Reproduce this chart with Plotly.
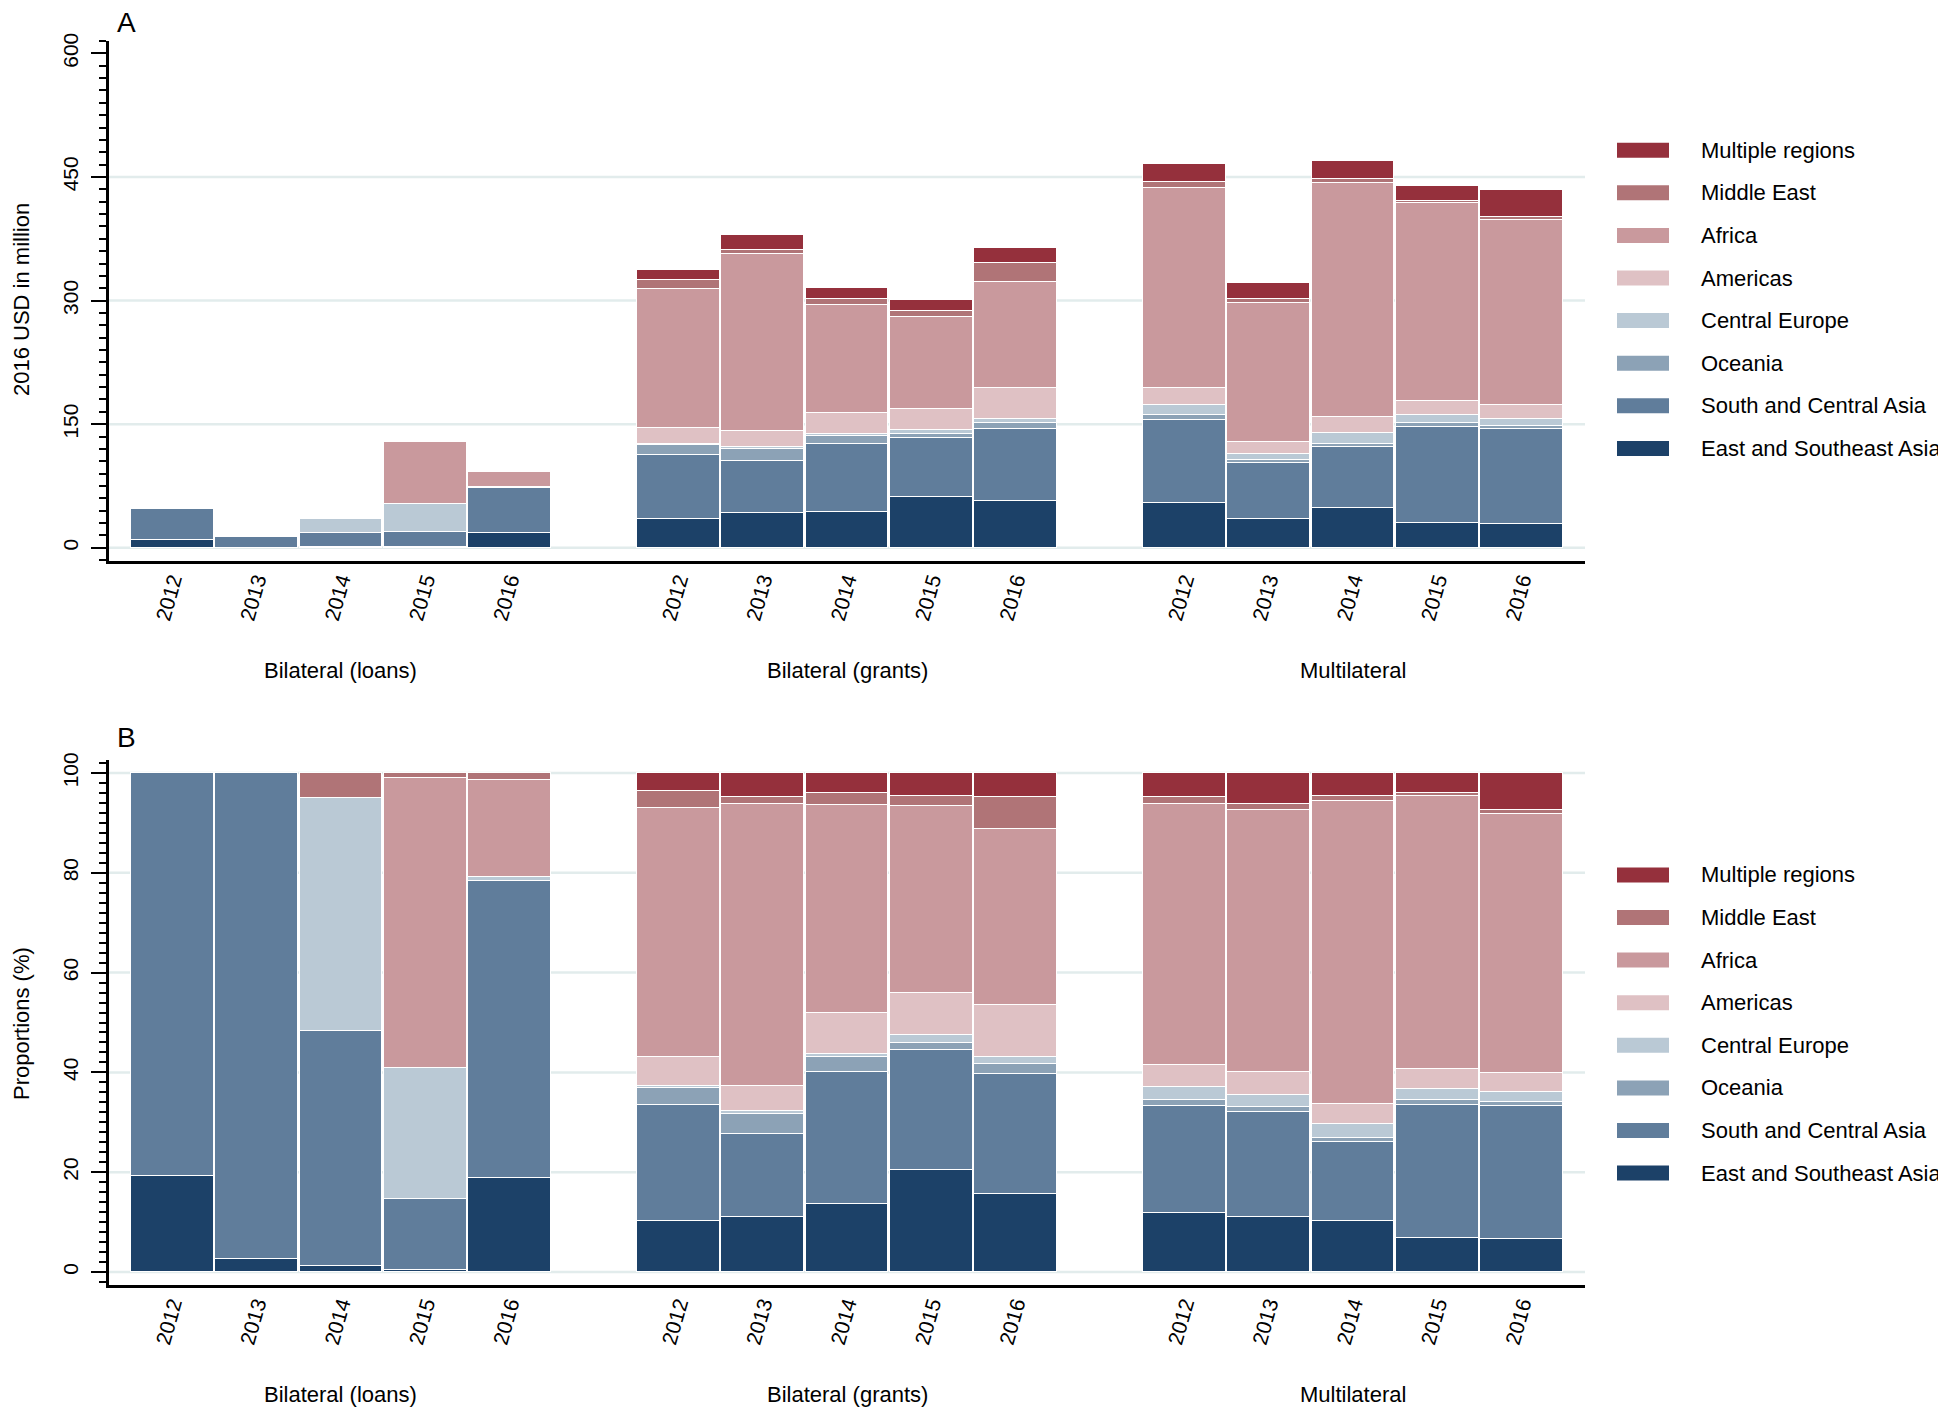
import pandas as pd
import plotly.graph_objects as go

regions = ["East and Southeast Asia", "South and Central Asia", "Oceania", "Central Europe",
           "Americas", "Africa", "Middle East", "Multiple regions"]
colors = ["#1c4168", "#607d9b", "#8ca2b6", "#bac9d5", "#dfc1c4", "#c9999d", "#b07477", "#95303c"]
groups = ["Bilateral (loans)", "Bilateral (grants)", "Multilateral"]
years = ["2012", "2013", "2014", "2015", "2016"]

# bar totals, 2016 USD million (panel A); loans, grants, multilateral x 2012..2016
totals = [46.6, 12.9, 36.5, 129.5, 93.0,
          337.6, 380.0, 315.2, 300.8, 363.6,
          466.0, 321.6, 469.6, 438.8, 434.0]

# regional shares in % (panel B), same bar order
share_esa = [19.3, 2.7, 1.3, 0.4, 18.9, 10.3, 11.0, 13.6, 20.5, 15.6, 11.8, 11.0, 10.3, 6.8, 6.6]
share_sca = [80.7, 97.3, 47.0, 14.3, 59.5, 23.2, 16.7, 26.4, 23.9, 24.0, 21.5, 21.1, 15.7, 26.7, 26.6]
share_oce = [0, 0, 0, 0, 0, 3.3, 3.9, 3.0, 1.4, 2.0, 1.2, 0.9, 0.9, 1.0, 0.8]
share_ceu = [0, 0, 46.6, 26.2, 0.8, 0.4, 0.7, 0.7, 1.7, 1.5, 2.6, 2.4, 2.7, 2.1, 2.1]
share_ame = [0, 0, 0, 0, 0, 5.8, 5.0, 8.2, 8.4, 10.4, 4.4, 4.6, 4.1, 4.1, 3.7]
share_afr = [0, 0, 0, 58.1, 19.4, 50.0, 56.5, 41.6, 37.4, 35.2, 52.3, 52.5, 60.6, 54.7, 51.9]
share_mea = [0, 0, 5.1, 1.0, 1.4, 3.4, 1.3, 2.4, 2.1, 6.5, 1.4, 1.2, 1.1, 0.6, 0.9]
share_mul = [0, 0, 0, 0, 0, 3.6, 4.9, 4.1, 4.6, 4.8, 4.8, 6.3, 4.6, 4.0, 7.4]

shares = pd.DataFrame([share_esa, share_sca, share_oce, share_ceu,
                       share_ame, share_afr, share_mea, share_mul], index=regions).T
amounts = shares.mul(totals, axis=0) / 100

# slot positions: one empty slot between groups
xpos = [g * 6 + i for g in range(len(groups)) for i in range(len(years))]

# page body adds an 8px margin, so the figure is laid out 8px smaller
OFF = 8
W, H = 1946 - OFF, 1407 - OFF
L, T = 109 - OFF, 41 - OFF
R = W - (1585 - OFF)
B = H - (1285 - OFF)
PW, PH = W - L - R, H - T - B

def px(p):
    return (p - OFF - L) / PW

def py(p):
    return (H - B - (p - OFF)) / PH

FONT = "Liberation Sans, Arial, Helvetica, sans-serif"
GRID = "#e2ecec"

fig = go.Figure()
for reg, col in zip(regions, colors):
    fig.add_trace(go.Bar(x=xpos, y=amounts[reg], name=reg, marker_color=col,
                         marker_line=dict(color="white", width=1.5), width=0.98,
                         showlegend=False, xaxis="x", yaxis="y"))
    fig.add_trace(go.Bar(x=xpos, y=shares[reg], name=reg, marker_color=col,
                         marker_line=dict(color="white", width=1.5), width=0.98,
                         showlegend=False, xaxis="x2", yaxis="y2"))

xcommon = dict(range=[-0.75, 16.75], tickvals=xpos, ticktext=years * 3, tickangle=-74,
               ticks="", showgrid=False, zeroline=False, showline=True,
               linecolor="black", linewidth=2.5, tickfont=dict(size=21, color="black"),
               ticklabelstandoff=-4)
ycommon = dict(tickangle=-90, ticks="outside", ticklen=15, tickwidth=2, tickcolor="black",
               showgrid=False, zeroline=False,
               showline=True, linecolor="black", linewidth=2.5,
               tickfont=dict(size=21, color="black"), ticklabelstandoff=5)

fig.update_layout(
    width=W, height=H, barmode="stack", bargap=0,
    plot_bgcolor="white", paper_bgcolor="white",
    margin=dict(l=L, r=R, t=T, b=B, autoexpand=False),
    font=dict(family=FONT, size=22, color="black"),
    xaxis=dict(domain=[0, 1], anchor="y", **xcommon),
    yaxis=dict(domain=[py(561), 1], anchor="x", range=[-16, 615],
               tickvals=[0, 150, 300, 450, 600],
               minor=dict(dtick=15, tick0=0, ticks="outside", ticklen=7, tickwidth=2,
                          tickcolor="black", showgrid=False),
               **ycommon),
    xaxis2=dict(domain=[0, 1], anchor="y2", **xcommon),
    yaxis2=dict(domain=[0, py(760)], anchor="x2", range=[-2.6, 102.6],
                tickvals=[0, 20, 40, 60, 80, 100],
                minor=dict(dtick=2, tick0=0, ticks="outside", ticklen=7, tickwidth=2,
                           tickcolor="black", showgrid=False),
                **ycommon),
)

shapes = []
# grid lines (no line at 600 in panel A)
for yv in [0, 150, 300, 450]:
    shapes.append(dict(type="line", xref="x domain", yref="y", x0=0, x1=1, y0=yv, y1=yv,
                       line=dict(color=GRID, width=2.5), layer="below"))
for yv in [0, 20, 40, 60, 80, 100]:
    shapes.append(dict(type="line", xref="x2 domain", yref="y2", x0=0, x1=1, y0=yv, y1=yv,
                       line=dict(color=GRID, width=2.5), layer="below"))

ann = []
# panel letters and y titles
ann.append(dict(text="A", x=px(126), y=py(22), xref="paper", yref="paper",
                showarrow=False, font=dict(size=28), xanchor="center", yanchor="middle"))
ann.append(dict(text="B", x=px(126), y=py(737), xref="paper", yref="paper",
                showarrow=False, font=dict(size=28), xanchor="center", yanchor="middle"))
ann.append(dict(text="2016 USD in million", x=px(22), y=py(300), xref="paper", yref="paper",
                showarrow=False, textangle=-90, font=dict(size=22),
                xanchor="center", yanchor="middle"))
ann.append(dict(text="Proportions (%)", x=px(22), y=py(1024), xref="paper", yref="paper",
                showarrow=False, textangle=-90, font=dict(size=22),
                xanchor="center", yanchor="middle"))
# group labels
for g, name in enumerate(groups):
    for xr, ylab in (("x", 670), ("x2", 1394)):
        ann.append(dict(text=name, x=g * 6 + 2, y=py(ylab), xref=xr, yref="paper",
                        showarrow=False, font=dict(size=22),
                        xanchor="center", yanchor="middle"))

# legends (one per panel)
for top in (150.2, 874.9):
    for k, (reg, col) in enumerate(zip(regions[::-1], colors[::-1])):
        yc = top + k * 42.6
        shapes.append(dict(type="rect", xref="paper", yref="paper",
                           x0=px(1617), x1=px(1669), y0=py(yc - 7.5), y1=py(yc + 7.5),
                           fillcolor=col, line=dict(width=0)))
        ann.append(dict(text=reg, x=px(1699), y=py(yc), xref="paper", yref="paper",
                        showarrow=False, xanchor="left", yanchor="middle",
                        font=dict(size=22)))

fig.update_layout(annotations=ann, shapes=shapes)
fig.write_html("out.html")
